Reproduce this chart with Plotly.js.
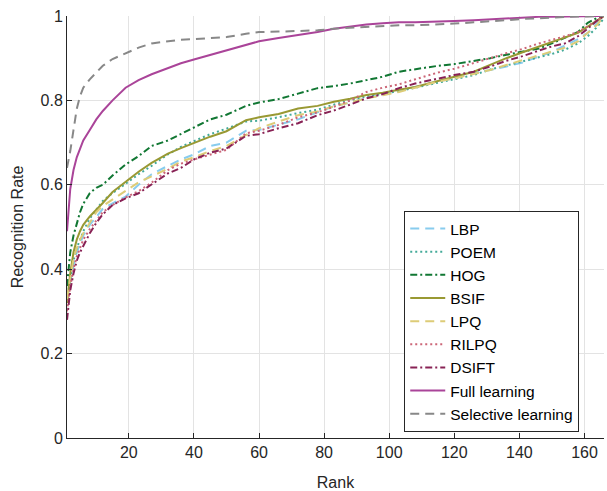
<!DOCTYPE html>
<html><head><meta charset="utf-8">
<script src="https://cdn.plot.ly/plotly-3.0.1.min.js"></script>
<style>html,body{margin:0;padding:0;background:#fff}#chart{width:607px;height:491px}</style>
</head><body><div id="chart"></div>
<script>
const ranks = [1,2,3,4,5,6,8,10,12,15,19,23,27,32,36,40,45,50,56,60,66,72,78,83,88,93,98,103,108,115,120,126,131,136,141,146,150,154,158,161,164,166];
const lbp   = [0.33,0.37,0.41,0.44,0.46,0.48,0.505,0.525,0.543,0.556,0.572,0.6,0.625,0.645,0.66,0.672,0.692,0.70,0.728,0.73,0.742,0.755,0.772,0.786,0.795,0.806,0.814,0.822,0.832,0.845,0.852,0.865,0.872,0.88,0.89,0.904,0.915,0.93,0.945,0.96,0.985,1];
const poem  = [0.33,0.38,0.42,0.45,0.47,0.49,0.52,0.54,0.562,0.58,0.603,0.625,0.645,0.672,0.69,0.703,0.72,0.733,0.75,0.752,0.76,0.77,0.778,0.79,0.80,0.81,0.815,0.822,0.83,0.842,0.85,0.86,0.873,0.883,0.893,0.903,0.91,0.92,0.935,0.952,0.975,0.995];
const hog   = [0.36,0.44,0.48,0.51,0.535,0.555,0.58,0.593,0.60,0.622,0.648,0.668,0.692,0.705,0.72,0.736,0.755,0.766,0.787,0.795,0.803,0.816,0.829,0.834,0.84,0.848,0.856,0.868,0.874,0.882,0.886,0.893,0.9,0.908,0.915,0.923,0.935,0.948,0.962,0.984,0.996,1];
const bsif  = [0.32,0.39,0.44,0.47,0.49,0.505,0.525,0.54,0.557,0.583,0.607,0.631,0.652,0.674,0.687,0.699,0.714,0.727,0.753,0.76,0.768,0.781,0.787,0.797,0.804,0.813,0.818,0.825,0.832,0.846,0.856,0.868,0.884,0.9,0.914,0.927,0.938,0.948,0.96,0.975,0.99,1];
const lpq   = [0.33,0.38,0.425,0.45,0.47,0.485,0.51,0.535,0.55,0.565,0.586,0.606,0.62,0.638,0.655,0.665,0.68,0.692,0.718,0.734,0.75,0.765,0.774,0.786,0.795,0.805,0.812,0.82,0.83,0.845,0.852,0.862,0.872,0.884,0.895,0.907,0.915,0.925,0.94,0.96,0.98,1];
const rilpq = [0.30,0.36,0.40,0.43,0.45,0.47,0.495,0.515,0.535,0.552,0.57,0.585,0.605,0.635,0.65,0.66,0.672,0.683,0.722,0.728,0.742,0.76,0.772,0.785,0.80,0.82,0.83,0.838,0.85,0.866,0.875,0.888,0.9,0.912,0.922,0.935,0.943,0.952,0.962,0.975,0.99,1];
const dsift = [0.28,0.35,0.39,0.42,0.44,0.455,0.485,0.51,0.53,0.552,0.568,0.58,0.60,0.627,0.64,0.66,0.676,0.686,0.716,0.72,0.734,0.746,0.765,0.776,0.79,0.805,0.815,0.829,0.84,0.852,0.86,0.868,0.88,0.894,0.905,0.918,0.928,0.935,0.952,0.97,0.99,1];
const full  = [0.49,0.59,0.635,0.665,0.685,0.705,0.73,0.755,0.775,0.80,0.83,0.848,0.862,0.877,0.888,0.897,0.908,0.918,0.932,0.94,0.948,0.955,0.962,0.97,0.975,0.98,0.983,0.985,0.985,0.986,0.988,0.99,0.992,0.995,0.997,0.998,0.998,0.999,1,1,1,1];
const selective = [0.64,0.68,0.73,0.78,0.81,0.83,0.85,0.866,0.882,0.898,0.912,0.925,0.935,0.94,0.944,0.945,0.948,0.950,0.958,0.962,0.963,0.964,0.966,0.97,0.972,0.975,0.977,0.978,0.978,0.98,0.982,0.985,0.987,0.99,0.993,0.995,0.996,0.998,0.999,0.999,1,1];
const names = ['LBP','POEM','HOG','BSIF','LPQ','RILPQ','DSIFT','Full learning','Selective learning'];
const series = [lbp,poem,hog,bsif,lpq,rilpq,dsift,full,selective];
const colors = ['#88CCEE','#44AA99','#117733','#999933','#DDCC77','#CC6677','#882255','#AA4499','#888888'];
const dashes = ['9px,6px','2px,3px','7px,3px,2px,3px','solid','9px,6px','2px,3px','7px,3px,2px,3px','solid','9px,6px'];

const traces = series.map((v,i)=>({
  x: ranks, y: v, type:'scatter', mode:'lines', name: names[i],
  line:{color:colors[i], width:2, dash:dashes[i]}
}));
const fam = '"Liberation Sans", Arial, Helvetica, sans-serif';
const layout = {
  width:607, height:491,
  margin:{l:67, r:3, t:16, b:53, pad:0},
  paper_bgcolor:'#fff', plot_bgcolor:'#fff',
  font: {family:fam, color:'#262626', size:16},
  showlegend:true,
  legend:{x:0.628, y:0.538, xanchor:'left', yanchor:'top', bgcolor:'#fff', bordercolor:'#262626', borderwidth:1,
    font:{family:fam, size:15.5, color:'#000'}, itemwidth:35, traceorder:'normal'},
  xaxis:{range:[1,166], tickvals:[20,40,60,80,100,120,140,160], ticks:'inside', ticklen:5, tickcolor:'#262626',
    showline:true, linecolor:'#262626', linewidth:1, showgrid:true, gridcolor:'#e3e3e3', zeroline:false,
    title:{text:'Rank', font:{size:16}, standoff:18}, tickfont:{size:16}},
  yaxis:{range:[0,1], tickvals:[0,0.2,0.4,0.6,0.8,1], ticktext:['0','0.2','0.4','0.6','0.8','1'], ticks:'inside', ticklen:5, tickcolor:'#262626',
    showline:true, linecolor:'#262626', linewidth:1, showgrid:true, gridcolor:'#e3e3e3', zeroline:false,
    title:{text:'Recognition Rate', font:{size:16}, standoff:12}, tickfont:{size:16}}
};
Plotly.newPlot('chart', traces, layout, {staticPlot:true, displayModeBar:false});
</script></body></html>
